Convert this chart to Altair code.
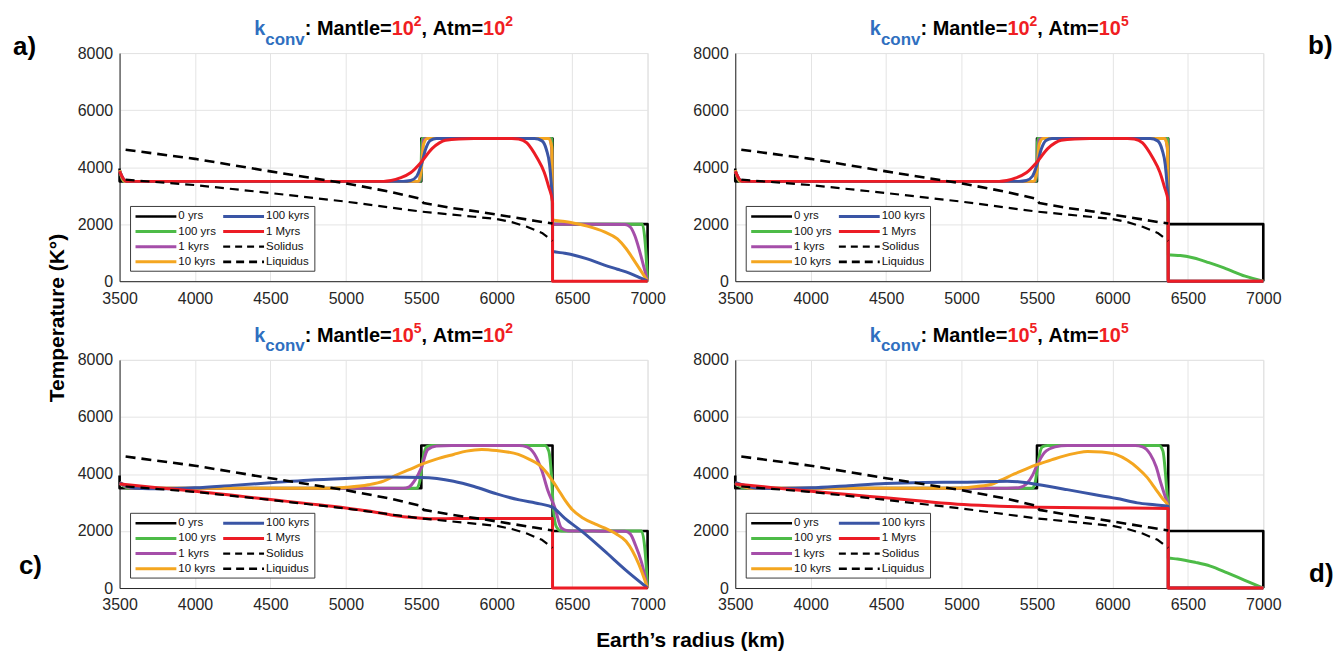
import altair as alt
import pandas as pd

# ---------------- data ----------------
RADIUS_TICKS = [3500, 4000, 4500, 5000, 5500, 6000, 6500, 7000]
TEMP_TICKS = [0, 2000, 4000, 6000, 8000]
SERIES = ['0 yrs', '100 yrs', '1 kyrs', '10 kyrs', '100 kyrs', '1 Myrs', 'Solidus', 'Liquidus']
LEGEND_COLS = [['0 yrs', '100 yrs', '1 kyrs', '10 kyrs'], ['100 kyrs', '1 Myrs', 'Solidus', 'Liquidus']]
PANEL_EXPONENTS = [('2', '2'), ('2', '5'), ('5', '2'), ('5', '5')]
PANEL_LETTERS = ['a)', 'b)', 'c)', 'd)']

zero_yrs = [(3500, 3950), (3500, 3500), (5500, 3500), (5500, 5000), (6370, 5000), (6370, 2000), (7000, 2000), (7000, 0)]
liquidus = [(3540, 4610), (4000, 4290), (4500, 3850), (5000, 3430), (5300, 3130), (5500, 2880), (5515, 2740),
            (5700, 2570), (5900, 2420), (6100, 2250), (6250, 2120), (6370, 2020)]
solidus = [(3540, 3560), (4000, 3370), (4500, 3090), (5000, 2790), (5500, 2440), (5850, 2260), (6000, 2180),
           (6100, 2070), (6200, 1910), (6300, 1690), (6370, 1410)]

# panels a/b (mantle part identical)
ab_green_mantle = [(3500, 3890), (3530, 3500), (5495, 3500), (5505, 5000), (6365, 5000)]
ab_purple_mantle = [(3500, 3890), (3535, 3500), (5485, 3500), (5500, 4000), (5515, 4950), (5530, 5000), (6350, 5000), (6365, 4600)]
ab_orange_mantle = [(3500, 3890), (3535, 3500), (5480, 3500), (5500, 3900), (5515, 4800), (5540, 5000), (6345, 5000), (6365, 4700)]
ab_blue_mantle = [(3500, 3850), (3545, 3500), (5380, 3500), (5430, 3530), (5470, 3680), (5500, 4080), (5530, 4650),
                  (5560, 4930), (5600, 5000), (6250, 5000), (6300, 4920), (6330, 4600), (6350, 4100), (6362, 3400), (6370, 2750)]
ab_red = [(3500, 3850), (3545, 3500), (5250, 3500), (5300, 3530), (5360, 3620), (5429, 3800), (5500, 4180), (5571, 4650),
          (5620, 4850), (5660, 4940), (5750, 4990), (5850, 5000), (6100, 5000), (6145, 4985), (6200, 4850), (6230, 4650),
          (6270, 4300), (6314, 3830), (6345, 3300), (6370, 2780), (6370, 0), (7000, 0)]
a_green_atm = [(6370, 2000), (6965, 2000), (6985, 1300), (7000, 0)]
a_purple_atm = [(6370, 2000), (6850, 1990), (6885, 1900), (6915, 1600), (6945, 1100), (6975, 500), (7000, 0)]
a_orange_atm = [(6370, 2150), (6450, 2090), (6514, 2030), (6600, 1930), (6714, 1729), (6800, 1480), (6857, 1145), (6920, 650), (7000, 0)]
a_blue_atm = [(6370, 1050), (6450, 980), (6514, 911), (6600, 780), (6714, 561), (6800, 420), (6857, 327), (6930, 170), (7000, 0)]
b_green_atm = [(6370, 930), (6450, 900), (6540, 815), (6640, 650), (6740, 466), (6880, 175), (7000, 0)]
cold_atm = [(6370, 0), (7000, 0)]

# panel c
c_green = [(3500, 3680), (3560, 3500), (5470, 3500), (5490, 3750), (5510, 4500), (5535, 4950), (5570, 5000), (6320, 5000),
           (6345, 4800), (6362, 4000), (6375, 2800), (6395, 2150), (6430, 2000), (6960, 2000), (6985, 1200), (7000, 0)]
c_purple = [(3500, 3680), (3580, 3500), (5380, 3500), (5420, 3550), (5460, 3800), (5500, 4215), (5543, 4859), (5600, 4980),
            (5700, 5000), (6150, 5000), (6200, 4950), (6250, 4700), (6300, 4100), (6340, 3400), (6386, 2810), (6428, 2108),
            (6470, 2010), (6520, 2000), (6850, 1990), (6885, 1900), (6920, 1500), (6960, 900), (7000, 0)]
c_orange = [(3500, 3700), (3600, 3500), (4900, 3500), (5000, 3530), (5150, 3620), (5250, 3750), (5343, 3981), (5420, 4150),
            (5500, 4333), (5600, 4520), (5714, 4684), (5800, 4800), (5900, 4860), (6000, 4820), (6143, 4684), (6220, 4500),
            (6286, 4300), (6330, 4050), (6371, 3747), (6420, 3350), (6457, 3044), (6500, 2750), (6571, 2459), (6650, 2250),
            (6714, 2108), (6790, 1900), (6857, 1639), (6900, 1300), (6943, 820), (7000, 0)]
c_blue = [(3500, 3700), (3600, 3500), (3800, 3480), (4000, 3513), (4250, 3600), (4500, 3689), (4750, 3780), (5000, 3840),
          (5286, 3890), (5500, 3880), (5714, 3747), (5850, 3560), (6000, 3300), (6150, 3090), (6286, 2950), (6371, 2830),
          (6450, 2450), (6571, 1960), (6714, 1300), (6857, 620), (7000, 0)]
c_red = [(3500, 3650), (3750, 3520), (4000, 3396), (4250, 3250), (4500, 3103), (4750, 2960), (5000, 2810), (5150, 2700),
         (5286, 2576), (5400, 2490), (5500, 2450), (5600, 2432), (5714, 2436), (6000, 2440), (6370, 2440), (6370, 0), (7000, 0)]

# panel d
d_green = [(3500, 3680), (3560, 3500), (5470, 3500), (5490, 3750), (5510, 4500), (5535, 4950), (5570, 5000), (6310, 5000),
           (6335, 4800), (6352, 4000), (6362, 3300), (6370, 2850), (6370, 1050), (6431, 1020), (6550, 900), (6649, 770),
           (6762, 530), (6874, 280), (7000, 0)]
d_purple = [(3500, 3680), (3600, 3500), (5300, 3500), (5380, 3520), (5430, 3650), (5470, 3950), (5500, 4300), (5550, 4750),
            (5620, 4950), (5700, 5000), (6150, 5000), (6200, 4950), (6250, 4700), (6290, 4250), (6320, 3700), (6350, 3200),
            (6370, 2850), (6370, 0), (7000, 0)]
d_orange = [(3500, 3700), (3600, 3500), (4900, 3500), (5000, 3510), (5100, 3560), (5200, 3640), (5260, 3780), (5350, 4000),
            (5430, 4180), (5504, 4333), (5600, 4500), (5676, 4626), (5760, 4730), (5835, 4790), (5930, 4770), (6022, 4684),
            (6100, 4480), (6166, 4216), (6230, 3880), (6281, 3513), (6330, 3150), (6370, 2870), (6370, 0), (7000, 0)]
d_blue = [(3500, 3700), (3650, 3500), (3800, 3490), (4003, 3513), (4250, 3590), (4497, 3664), (4750, 3700), (5015, 3711),
          (5302, 3747), (5420, 3700), (5504, 3630), (5700, 3450), (5878, 3279), (6050, 3120), (6166, 2986), (6280, 2920),
          (6370, 2870), (6370, 0), (7000, 0)]
d_red = [(3500, 3650), (3750, 3520), (4003, 3396), (4250, 3280), (4497, 3162), (4750, 3040), (5015, 2928), (5250, 2870),
         (5504, 2834), (6000, 2810), (6370, 2790), (6370, 0), (7000, 0)]

PANELS = [
    {'0 yrs': zero_yrs, '100 yrs': ab_green_mantle + a_green_atm, '1 kyrs': ab_purple_mantle + a_purple_atm,
     '10 kyrs': ab_orange_mantle + a_orange_atm, '100 kyrs': ab_blue_mantle + a_blue_atm, '1 Myrs': ab_red,
     'Solidus': solidus, 'Liquidus': liquidus},
    {'0 yrs': zero_yrs, '100 yrs': ab_green_mantle + b_green_atm, '1 kyrs': ab_purple_mantle + cold_atm,
     '10 kyrs': ab_orange_mantle + cold_atm, '100 kyrs': ab_blue_mantle + cold_atm, '1 Myrs': ab_red,
     'Solidus': solidus, 'Liquidus': liquidus},
    {'0 yrs': zero_yrs, '100 yrs': c_green, '1 kyrs': c_purple, '10 kyrs': c_orange, '100 kyrs': c_blue,
     '1 Myrs': c_red, 'Solidus': solidus, 'Liquidus': liquidus},
    {'0 yrs': zero_yrs, '100 yrs': d_green, '1 kyrs': d_purple, '10 kyrs': d_orange, '100 kyrs': d_blue,
     '1 Myrs': d_red, 'Solidus': solidus, 'Liquidus': liquidus},
]

# ---------------- styles ----------------
W, H = 530, 229
X_DOMAIN = [3500, 7000]
Y_DOMAIN = [0, 8000]
COLORS = ['#000000', '#4dbb47', '#a54ea9', '#f4a620', '#3a55a5', '#ec1c25', '#000000', '#000000']
DASHES = [None, None, None, None, None, None, [9, 6], [10, 6]]
WIDTHS = [2.6, 3, 3, 3, 3, 3, 2.2, 2.6]
FONT = 'Liberation Sans'
BLUE_T = '#2f6fc0'
RED_T = '#f01e23'

BOLD_W = {'k': 556, 'c': 556, 'o': 611, 'n': 611, 'v': 556, ':': 333, ' ': 278, 'M': 833, 'a': 556, 't': 333,
          'l': 278, 'e': 556, '=': 584, '0': 556, '1': 556, '2': 556, '5': 556, ',': 278, 'A': 722, 'm': 889}


def tw(s, size):
    return sum(BOLD_W[ch] for ch in s) * size / 1000.0


def px2km(px):
    return X_DOMAIN[0] + px * (X_DOMAIN[1] - X_DOMAIN[0]) / W


def py2K(py):
    return Y_DOMAIN[1] - py * (Y_DOMAIN[1] - Y_DOMAIN[0]) / H


x_axis = alt.Axis(values=RADIUS_TICKS, format='d', title=None, labelFont=FONT, labelFontSize=16, labelColor='#262626',
                  ticks=False, labelPadding=9, domainColor='#262626', domainWidth=1, gridColor='#e4e4e4',
                  labelFlush=False, labelOverlap=False)
y_axis = alt.Axis(values=TEMP_TICKS, format='d', title=None, labelFont=FONT, labelFontSize=16, labelColor='#262626',
                  ticks=False, labelPadding=7, domainColor='#262626', domainWidth=1, gridColor='#e4e4e4',
                  labelFlush=False, labelOverlap=False)
xs = alt.Scale(domain=X_DOMAIN, nice=False, zero=False)
ys = alt.Scale(domain=Y_DOMAIN, nice=False, zero=False)
color_enc = alt.Color('series:N', scale=alt.Scale(domain=SERIES, range=COLORS), legend=None)

ONE = pd.DataFrame({'k': [0]})


def txt(s, x, y, size, color, bold=True, align='left', baseline='alphabetic', angle=0):
    kw = dict(text=s, font=FONT, fontSize=size, color=color, align=align, baseline=baseline)
    if bold:
        kw['fontWeight'] = 'bold'
    if angle:
        kw['angle'] = angle
    return alt.Chart(ONE).mark_text(**kw).encode(x=alt.value(x), y=alt.value(y))


def frame(points, name):
    return pd.DataFrame({'radius': [p[0] for p in points], 'temp': [p[1] for p in points],
                         'series': name, 'i': list(range(len(points)))})


def make_panel(idx):
    profiles = PANELS[idx]
    layers = []
    for name, dash, width in zip(SERIES, DASHES, WIDTHS):
        kw = dict(strokeWidth=width, strokeJoin='round', strokeCap='butt')
        if dash:
            kw['strokeDash'] = dash
        else:
            kw['interpolate'] = 'monotone'
        layers.append(alt.Chart(frame(profiles[name], name)).mark_line(**kw).encode(
            x=alt.X('radius:Q', scale=xs, axis=x_axis),
            y=alt.Y('temp:Q', scale=ys, axis=y_axis),
            color=color_enc, order=alt.Order('i:Q')))

    # legend box drawn inside the plot through the data scales
    box = pd.DataFrame({'x1': [px2km(11)], 'x2': [px2km(196)], 'y1': [py2K(154)], 'y2': [py2K(219)]})
    layers.append(alt.Chart(box).mark_rect(fill='white', stroke='#262626', strokeWidth=0.9).encode(
        x=alt.X('x1:Q', scale=xs, axis=x_axis), x2='x2:Q',
        y=alt.Y('y1:Q', scale=ys, axis=y_axis), y2='y2:Q'))
    rows = []
    for c, col in enumerate(LEGEND_COLS):
        for r, name in enumerate(col):
            lx0 = 16 if c == 0 else 104
            rows.append({'series': name, 'lx1': px2km(lx0), 'lx2': px2km(lx0 + 41),
                         'tx': px2km(lx0 + 43), 'ly': py2K(164 + 15.2 * r),
                         'w': WIDTHS[SERIES.index(name)]})
    leg = pd.DataFrame(rows)
    dash_scale = alt.Scale(domain=SERIES, range=[[1, 0]] * 6 + [[7, 5], [8, 5]])
    layers.append(alt.Chart(leg).mark_rule().encode(
        x=alt.X('lx1:Q', scale=xs, axis=x_axis), x2='lx2:Q',
        y=alt.Y('ly:Q', scale=ys, axis=y_axis),
        color=color_enc,
        strokeDash=alt.StrokeDash('series:N', scale=dash_scale, legend=None),
        strokeWidth=alt.StrokeWidth('w:Q', scale=None)))
    layers.append(alt.Chart(leg).mark_text(align='left', baseline='middle', font=FONT, fontSize=11.5,
                                           color='#111111').encode(
        x=alt.X('tx:Q', scale=xs, axis=x_axis), y=alt.Y('ly:Q', scale=ys, axis=y_axis), text='series:N'))

    # panel title k_conv: Mantle=10^m, Atm=10^a
    mexp, aexp = PANEL_EXPONENTS[idx]
    segs = [('k', 20, BLUE_T, 'main'), ('conv', 17, BLUE_T, 'sub'), (':', 20, 'black', 'main'), (' ', 20, None, 'main'),
            ('Mantle=', 20, 'black', 'main'), ('10', 20, RED_T, 'main'), (mexp, 14, RED_T, 'sup'),
            (',', 20, 'black', 'main'), (' ', 20, None, 'main'), ('Atm=', 20, 'black', 'main'),
            ('10', 20, RED_T, 'main'), (aexp, 14, RED_T, 'sup')]
    total = sum(tw(s, sz) for s, sz, _, _ in segs)
    x = W / 2 - total / 2
    base = {'main': -18, 'sub': -8.5, 'sup': -27}
    for s, sz, col, kind in segs:
        if col:
            layers.append(txt(s, x, base[kind], sz, col))
        x += tw(s, sz)

    # panel letters
    letter_pos = [(-107, 2), (575, 1), (-101, 215), (576, 223)]
    lx, ly = letter_pos[idx]
    layers.append(txt(PANEL_LETTERS[idx], lx, ly, 26, 'black'))

    if idx == 0:
        # invisible anchor fixing the top-left corner of the figure
        layers.append(alt.Chart(ONE).mark_rect(opacity=0).encode(
            x=alt.value(-111), x2=alt.value(-110), y=alt.value(-43), y2=alt.value(-42)))
    if idx == 2:
        layers.append(txt('Temperature (K°)', -62, -42, 21, 'black', align='center', baseline='middle', angle=270))
        layers.append(txt('Earth\u2019s radius (km)', 573, 288, 21, 'black', align='center'))

    return alt.layer(*layers).properties(width=W, height=H)


chart = alt.concat(make_panel(0), make_panel(1), make_panel(2), make_panel(3), columns=2,
                   spacing=alt.RowColnumber(row=79, column=88), bounds='flush').properties(
    padding=0
).configure_view(strokeWidth=0).configure(background='white')

chart.save("out.html", embed_options={"renderer": "svg", "actions": False})
